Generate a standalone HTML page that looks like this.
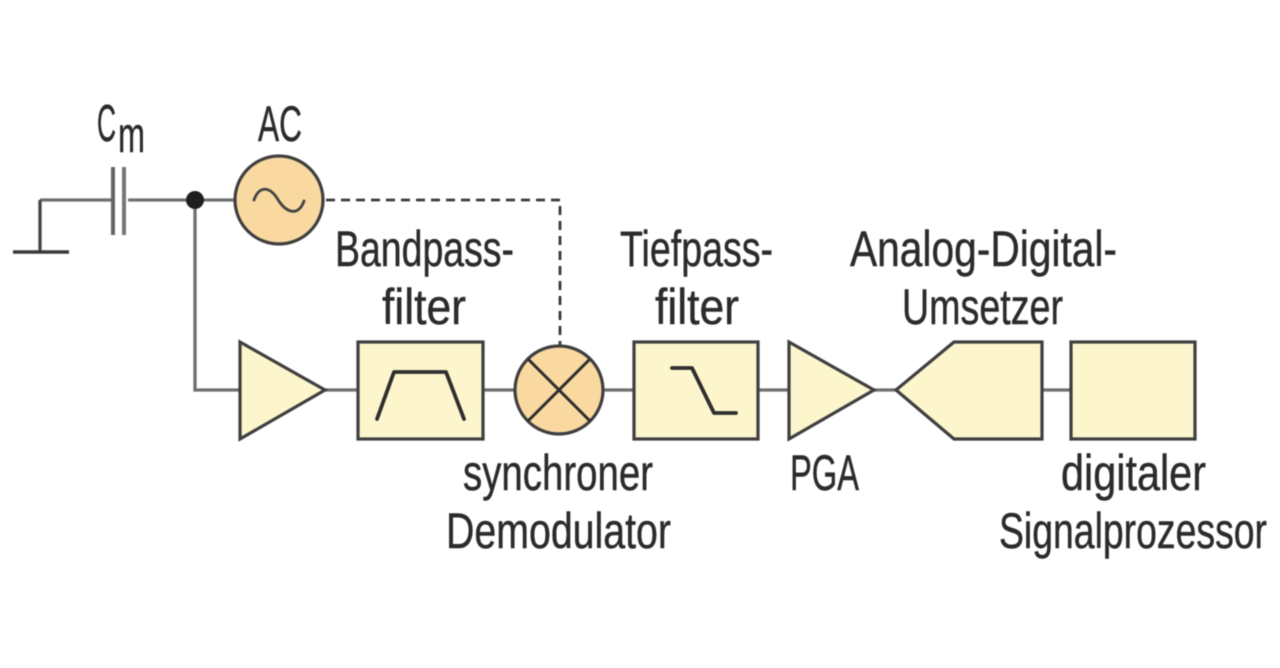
<!DOCTYPE html>
<html>
<head>
<meta charset="utf-8">
<style>
html,body{margin:0;padding:0;background:#fff;width:1280px;height:668px;overflow:hidden}
svg{display:block;filter:blur(.45px)}
text{font-family:"Liberation Sans",sans-serif;font-size:50px;fill:#2b2b2b;stroke:#2b2b2b;stroke-width:.45px}
</style>
</head>
<body>
<svg width="1280" height="668" viewBox="0 0 1280 668" xmlns="http://www.w3.org/2000/svg">
<rect width="1280" height="668" fill="#fff"/>
<g fill="none" stroke="#707070" stroke-width="3.3">
  <path d="M40 200H111M128 200H234"/>
  <path d="M40 200V252" stroke="#444"/>
  <path d="M13 252H69" stroke="#3a3a3a" stroke-width="3.6"/>
  <path d="M113 167V235" stroke="#666" stroke-width="4"/>
  <path d="M124 167V235" stroke="#777" stroke-width="4"/>
  <path d="M195 200V390H240"/>
  <path d="M325 390H358M484 390H515M604 390H634M758 390H790M874 390H896M1042 390H1071"/>
</g>
<circle cx="195" cy="200" r="9" fill="#1f1f1f"/>
<path d="M326 200H560V346" fill="none" stroke="#3a3a3a" stroke-width="2.8" stroke-dasharray="9 6"/>
<g stroke="#3f3f3f" stroke-width="3.2" stroke-linejoin="miter">
  <circle cx="279" cy="200" r="44" fill="#fad9a1"/>
  <circle cx="559" cy="390" r="44" fill="#fad9a1"/>
  <path d="M240 342L325 390L240 439Z" fill="#fdf6cd"/>
  <rect x="358" y="342" width="125" height="97" fill="#fdf6cd"/>
  <rect x="634" y="342" width="124" height="97" fill="#fdf6cd"/>
  <path d="M789 342L874 390L789 439Z" fill="#fdf6cd"/>
  <path d="M896 390L954 342H1042V439H954Z" fill="#fdf6cd"/>
  <rect x="1071" y="342" width="124" height="97" fill="#fdf6cd"/>
</g>
<g fill="none" stroke="#2e2e2e" stroke-width="3.4" stroke-linecap="round" stroke-linejoin="round">
  <path d="M254 200C259 186 269 186 277 198C285 212 298 218 304 201" stroke="#444" stroke-width="2.8"/>
  <path d="M529 360L589 420M589 360L529 420" stroke-width="3"/>
  <path d="M377 419L394 372H446L464 419" stroke-width="3.8"/>
  <path d="M672 368H692L714 413H736" stroke-width="3.8"/>
</g>
<text x="97" y="141" textLength="19" lengthAdjust="spacingAndGlyphs" style="font-size:52px">C</text>
<text x="118" y="152" textLength="27" lengthAdjust="spacingAndGlyphs">m</text>
<text x="258" y="141" textLength="44" lengthAdjust="spacingAndGlyphs">AC</text>
<text x="335" y="266" textLength="179" lengthAdjust="spacingAndGlyphs">Bandpass-</text>
<text x="382" y="324" textLength="84" lengthAdjust="spacingAndGlyphs">filter</text>
<text x="620" y="266" textLength="153" lengthAdjust="spacingAndGlyphs">Tiefpass-</text>
<text x="655" y="324" textLength="84" lengthAdjust="spacingAndGlyphs">filter</text>
<text x="850" y="266" textLength="267" lengthAdjust="spacingAndGlyphs">Analog-Digital-</text>
<text x="902" y="324" textLength="161" lengthAdjust="spacingAndGlyphs">Umsetzer</text>
<text x="463" y="490" textLength="190" lengthAdjust="spacingAndGlyphs">synchroner</text>
<text x="446" y="548" textLength="225" lengthAdjust="spacingAndGlyphs">Demodulator</text>
<text x="790" y="490" textLength="69" lengthAdjust="spacingAndGlyphs">PGA</text>
<text x="1061" y="490" textLength="145" lengthAdjust="spacingAndGlyphs">digitaler</text>
<text x="999" y="548" textLength="268" lengthAdjust="spacingAndGlyphs">Signalprozessor</text>
</svg>
</body>
</html>
